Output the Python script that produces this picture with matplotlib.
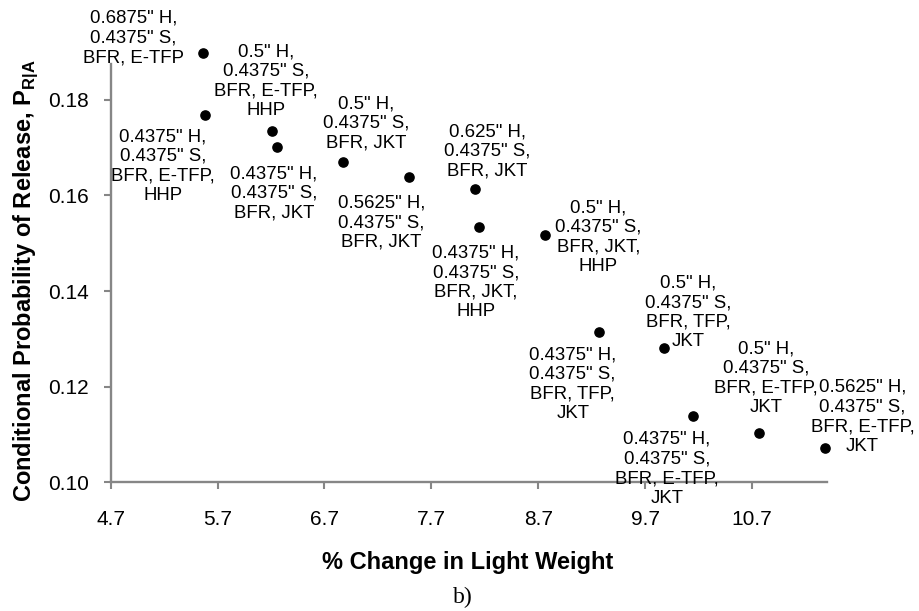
import matplotlib
matplotlib.use("Agg")
import matplotlib.pyplot as plt
import numpy as np

plt.rcParams['font.family'] = ['Liberation Sans', 'DejaVu Sans']
plt.rcParams['mathtext.fontset'] = 'custom'
plt.rcParams['mathtext.rm'] = 'Liberation Sans'
plt.rcParams['mathtext.bf'] = 'Liberation Sans:bold'

# data
light_weight_change = [5.567, 5.583, 6.207, 6.254, 6.869, 7.487, 8.105,
                       8.146, 8.766, 9.266, 9.878, 10.149, 10.767, 11.388]
prob_release = [0.1898, 0.1768, 0.1735, 0.1701, 0.1669, 0.1639, 0.1613,
                0.1533, 0.1517, 0.1314, 0.1280, 0.1139, 0.1103, 0.1072]
point_labels = [
    '0.6875" H,\n0.4375" S,\nBFR, E-TFP',
    '0.4375" H,\n0.4375" S,\nBFR, E-TFP,\nHHP',
    '0.5" H,\n0.4375" S,\nBFR, E-TFP,\nHHP',
    '0.4375" H,\n0.4375" S,\nBFR, JKT',
    '0.5" H,\n0.4375" S,\nBFR, JKT',
    '0.5625" H,\n0.4375" S,\nBFR, JKT',
    '0.625" H,\n0.4375" S,\nBFR, JKT',
    '0.4375" H,\n0.4375" S,\nBFR, JKT,\nHHP',
    '0.5" H,\n0.4375" S,\nBFR, JKT,\nHHP',
    '0.4375" H,\n0.4375" S,\nBFR, TFP,\nJKT',
    '0.5" H,\n0.4375" S,\nBFR, TFP,\nJKT',
    '0.4375" H,\n0.4375" S,\nBFR, E-TFP,\nJKT',
    '0.5" H,\n0.4375" S,\nBFR, E-TFP,\nJKT',
    '0.5625" H,\n0.4375" S,\nBFR, E-TFP,\nJKT',
]
x_ticks = [4.7, 5.7, 6.7, 7.7, 8.7, 9.7, 10.7]
y_ticks = [0.10, 0.12, 0.14, 0.16, 0.18]

# label placement (pixel offsets from each point, y up)
label_offsets = [(-70, 15), (-42, -51), (-6, 50), (-3, -46), (24, 39),
                 (-27, -46), (13, 38), (-3, -55), (53, -2), (-26, -52),
                 (24, 36), (-26, -53), (7, 55), (37, 31)]

fig = plt.figure(figsize=(9.19, 6.11), dpi=100)
ax = fig.add_axes([0.1205, 0.2106, 0.7791, 0.6847])

ax.scatter(light_weight_change, prob_release, s=44, color='black', zorder=3, clip_on=False)

for xv, yv, txt, (dx, dy) in zip(light_weight_change, prob_release, point_labels, label_offsets):
    ax.annotate(txt, (xv, yv), xytext=(dx, dy), textcoords='offset pixels',
                ha='center', va='center', multialignment='center',
                fontsize=13.4, color='black', annotation_clip=False)

ax.set_xlim(4.7, 11.4)
ax.set_ylim(0.10, 0.1875)
ax.set_xticks(x_ticks, [f'{v:.1f}' for v in x_ticks])
ax.set_yticks(y_ticks, [f'{v:.2f}' for v in y_ticks])

axis_gray = '#868686'
for side in ['top', 'right']:
    ax.spines[side].set_visible(False)
for side in ['left', 'bottom']:
    ax.spines[side].set_color(axis_gray)
    ax.spines[side].set_linewidth(1.7)
ax.tick_params(axis='both', direction='out', length=5, width=1.5, color=axis_gray,
               labelsize=15, labelcolor='black')
ax.tick_params(axis='x', pad=15)
ax.tick_params(axis='y', pad=11)

fig.text(468 / 919, 1 - 563 / 611, '% Change in Light Weight', ha='center', va='center',
         fontsize=17, fontweight='bold')
fig.text(26 / 919, 1 - 281 / 611, r'Conditional Probability of Release, P$_{\mathbf{R|A}}$',
         ha='center', va='center', rotation=90, fontsize=17, fontweight='bold')
fig.text(463 / 919, 1 - 597 / 611, 'b)', ha='center', va='center', fontsize=17,
         family='Liberation Serif')

fig.savefig('out.png', dpi=100)
